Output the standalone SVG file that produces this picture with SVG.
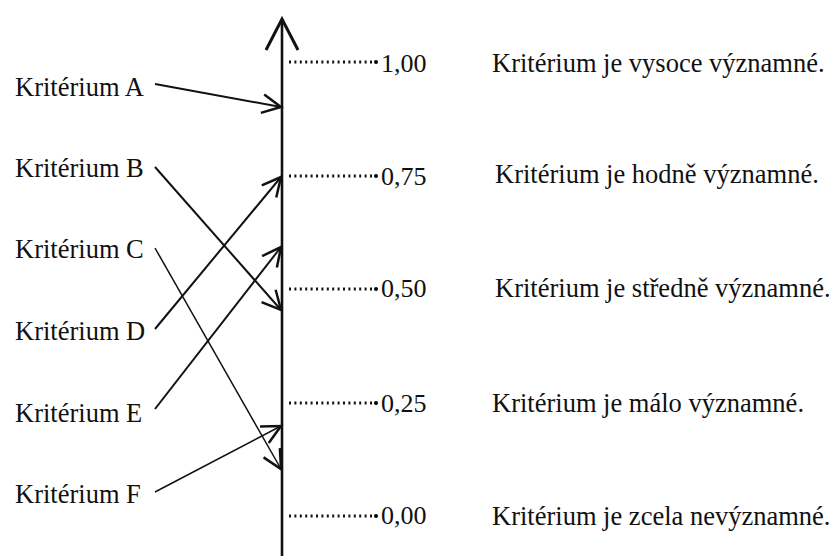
<svg xmlns="http://www.w3.org/2000/svg" width="834" height="556" viewBox="0 0 834 556">
<style>
text{font-family:'Liberation Serif','Times New Roman',serif;font-size:26.5px;fill:#111}
.v{font-size:26px}
.c{stroke:#111;stroke-width:2;fill:none}
.thin{stroke-width:1.5}
.dot{stroke:#111;stroke-width:3;stroke-dasharray:2 3.4;fill:none}
</style>
<defs>
<marker id="ah" markerUnits="userSpaceOnUse" markerWidth="30" markerHeight="30" viewBox="-20 -12 24 24" refX="0" refY="0" orient="auto">
<path d="M-15,-7.5 L0,0 L-15,7.5" stroke="#111" stroke-width="2" fill="none"/>
</marker>
</defs>
<g id="axis">
<line x1="282" y1="19" x2="282" y2="556" stroke="#111" stroke-width="2.6"/>
<path d="M266,50 L282,19 L298,50" stroke="#111" stroke-width="3" fill="none"/>
</g>
<g id="scale">
<g id="t100"><line class="dot" x1="289" y1="62" x2="375" y2="62"/><circle cx="376" cy="62" r="2"/><text class="v" x="381" y="72">1,00</text></g>
<g id="t075"><line class="dot" x1="289" y1="176" x2="375" y2="176"/><circle cx="376" cy="176" r="2"/><text class="v" x="381" y="185">0,75</text></g>
<g id="t050"><line class="dot" x1="289" y1="289" x2="375" y2="289"/><circle cx="376" cy="289" r="2"/><text class="v" x="381" y="297">0,50</text></g>
<g id="t025"><line class="dot" x1="289" y1="403" x2="375" y2="403"/><circle cx="376" cy="403" r="2"/><text class="v" x="381" y="412">0,25</text></g>
<g id="t000"><line class="dot" x1="289" y1="516" x2="375" y2="516"/><circle cx="376" cy="516" r="2"/><text class="v" x="381" y="524">0,00</text></g>
</g>
<g id="desc">
<text x="492" y="72">Kritérium je vysoce významné.</text>
<text x="495" y="183">Kritérium je hodně významné.</text>
<text x="495" y="297">Kritérium je středně významné.</text>
<text x="492" y="412">Kritérium je málo významné.</text>
<text x="492" y="525">Kritérium je zcela nevýznamné.</text>
</g>
<g id="nodeA"><text x="15" y="96">Kritérium A</text></g>
<g id="nodeB"><text x="15" y="177">Kritérium B</text></g>
<g id="nodeC"><text x="15" y="258">Kritérium C</text></g>
<g id="nodeD"><text x="15" y="340">Kritérium D</text></g>
<g id="nodeE"><text x="15" y="422">Kritérium E</text></g>
<g id="nodeF"><text x="15" y="503">Kritérium F</text></g>
<g id="connectors">
<line class="c" x1="155" y1="84" x2="281" y2="107" marker-end="url(#ah)"/>
<line class="c" x1="155" y1="167" x2="281" y2="310" marker-end="url(#ah)"/>
<line class="c thin" x1="155" y1="248" x2="281" y2="469" marker-end="url(#ah)"/>
<line class="c" x1="155" y1="329" x2="281" y2="177" marker-end="url(#ah)"/>
<line class="c" x1="155" y1="409" x2="281" y2="247" marker-end="url(#ah)"/>
<line class="c thin" x1="155" y1="492" x2="281" y2="426" marker-end="url(#ah)"/>
</g>
</svg>
